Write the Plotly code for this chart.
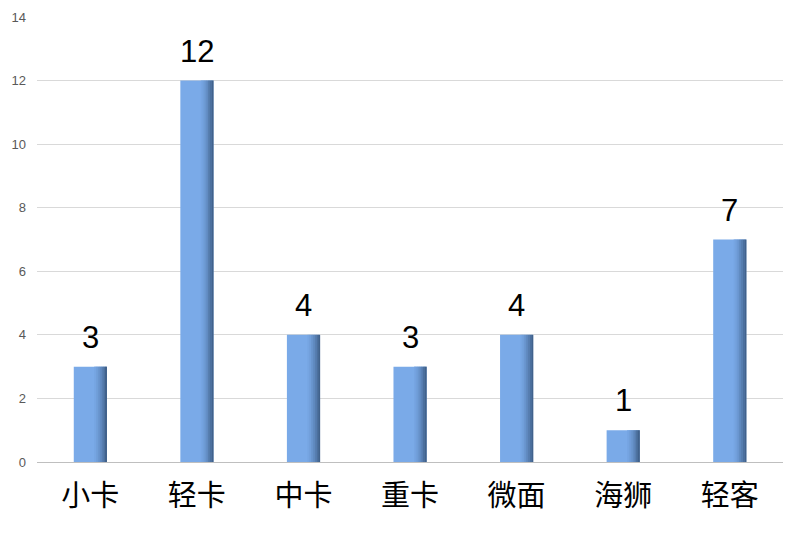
import plotly.graph_objects as go

categories = ["小卡", "轻卡", "中卡", "重卡", "微面", "海狮", "轻客"]
values = [3, 12, 4, 3, 4, 1, 7]
y_ticks = [0, 2, 4, 6, 8, 10, 12, 14]

BAR_W = 0.31
base_color = "#7aaae8"
stripe_colors = ["#76a5e2", "#719fda", "#6a96cf", "#618bc1", "#577eb0", "#4c709e", "#41628c"]

fig = go.Figure()
fig.add_trace(go.Bar(x=categories, y=values, width=BAR_W, marker=dict(color=base_color, line=dict(width=0)),
                     hoverinfo="x+y"))
n = len(stripe_colors)
start = 0.62
sw = (1 - start) / n
for k, c in enumerate(stripe_colors):
    fig.add_trace(go.Bar(x=categories, y=values, width=BAR_W * sw + 0.002,
                         offset=-BAR_W / 2 + BAR_W * (start + k * sw),
                         marker=dict(color=c, line=dict(width=0)), hoverinfo="skip"))

for c, v in zip(categories, values):
    fig.add_annotation(x=c, y=v, text=str(v), showarrow=False, yanchor="bottom", yshift=10,
                       font=dict(family="Liberation Sans, Arial", size=31, color="#000000"))

fig.update_layout(
    width=800, height=534,
    margin=dict(l=29, r=25, t=9, b=80),
    paper_bgcolor="white", plot_bgcolor="white",
    barmode="overlay", showlegend=False, bargap=0.69,
    xaxis=dict(showgrid=False, showline=False, ticks="", ticklabelstandoff=14, automargin=False,
               tickfont=dict(family="Noto Sans CJK SC", size=29, color="#000000")),
    yaxis=dict(range=[0, 14], tickvals=y_ticks, showgrid=True, gridcolor="#d9d9d9", gridwidth=1,
               zeroline=True, zerolinecolor="#bfbfbf", zerolinewidth=1, showline=False,
               ticks="", ticklabelstandoff=10, automargin=False,
               tickfont=dict(family="Liberation Sans, Arial", size=13, color="#595959")),
)
fig.write_html("out.html")
